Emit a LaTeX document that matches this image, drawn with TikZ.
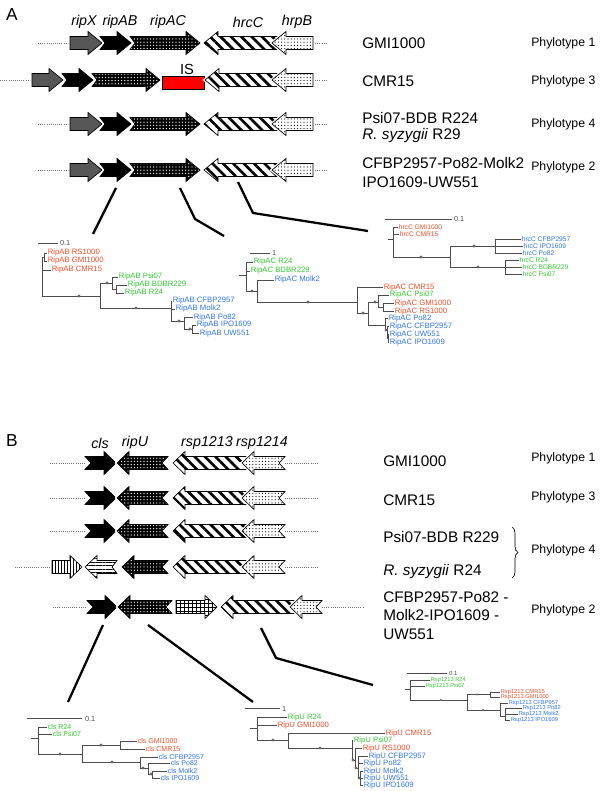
\documentclass[tikz,border=0pt]{standalone}
\usepackage{fontspec}
\setmainfont{Liberation Sans}
\usetikzlibrary{patterns.meta,decorations.pathreplacing}

\definecolor{cladered}{RGB}{240,78,42}
\definecolor{cladegreen}{RGB}{52,200,52}
\definecolor{cladeblue}{RGB}{48,118,232}

\tikzstyle{halo}=[preaction={draw=white,line width=2.4pt}]
\tikzstyle{greygene}=[halo,fill=black!66,draw=black,line width=0.5pt]
\tikzstyle{blackgene}=[halo,fill=black,draw=black,line width=0.5pt]
\tikzstyle{darkdots}=[halo,preaction={fill=black},pattern={Dots[radius=0.5pt,distance=2.4pt]},pattern color=white,draw=black,line width=0.5pt]
\tikzstyle{lightdots}=[halo,preaction={fill=white},pattern={Dots[radius=0.45pt,distance=2.4pt]},pattern color=black,draw=black,line width=0.5pt]
\tikzstyle{stripes}=[halo,preaction={fill=white},pattern={Lines[angle=-45,distance=5.5pt,line width=2pt]},pattern color=black,draw=black,line width=0.5pt]
\tikzstyle{vstripes}=[halo,preaction={fill=white},pattern={Lines[angle=90,distance=2.2pt,line width=0.6pt]},pattern color=black,draw=black,line width=0.5pt]
\tikzstyle{hstripes}=[halo,preaction={fill=white},pattern={Lines[angle=0,distance=2.6pt,line width=0.5pt]},pattern color=black,draw=black,line width=0.5pt]
\tikzstyle{gridgene}=[halo,preaction={fill=white},pattern={Hatch[angle=0,distance=3pt,line width=0.5pt]},pattern color=black,draw=black,line width=0.5pt]
\tikzstyle{isbox}=[draw=black,fill=red,line width=0.6pt,minimum width=31.5pt,minimum height=9.75pt,inner sep=0pt]
\tikzstyle{locus}=[densely dotted,black!55,line width=0.6pt]
\tikzstyle{panel}=[font=\fontsize{13}{14}\selectfont]
\tikzstyle{genelabel}=[font=\fontsize{10.7}{12}\selectfont\itshape]
\tikzstyle{strain}=[anchor=west,inner sep=0pt,font=\fontsize{11.5}{13}\selectfont]
\tikzstyle{phylo}=[anchor=west,inner sep=0pt,font=\fontsize{9.2}{11}\selectfont]
\tikzstyle{zoomline}=[line width=1.7pt,line join=round]
\tikzstyle{branch}=[draw=black!70,line width=0.45pt]
\tikzstyle{bdot}=[circle,fill=black!60,inner sep=0pt,minimum size=2.3pt]
\tikzstyle{leaf}=[anchor=west,inner sep=0.4pt,font=\fontsize{5.8}{6}\selectfont]
\tikzstyle{smallleaf}=[leaf,font=\fontsize{5}{5}\selectfont]
\tikzstyle{tinyleaf}=[leaf,font=\fontsize{4.3}{5}\selectfont]
\tikzstyle{barlab}=[anchor=west,inner sep=0.6pt,text=black!70,font=\fontsize{5.5}{6}\selectfont]

% gene arrows: [notch]{style}{x from}{x to}{y}
\newcommand{\headlen}{14}
\newcommand{\rgene}[5][0]{\path[#2] (#3,#5-6.5) -- (#4-\headlen,#5-6.5) -- (#4-\headlen,#5-11.5) -- (#4,#5) -- (#4-\headlen,#5+11.5) -- (#4-\headlen,#5+6.5) -- (#3,#5+6.5) -- (#3+#1,#5) -- cycle;}
\newcommand{\lgene}[5][0]{\path[#2] (#3,#5) -- (#3+\headlen,#5-11.5) -- (#3+\headlen,#5-6.5) -- (#4,#5-6.5) -- (#4-#1,#5) -- (#4,#5+6.5) -- (#3+\headlen,#5+6.5) -- (#3+\headlen,#5+11.5) -- cycle;}

\begin{document}
\begin{tikzpicture}[x=0.75pt,y=-0.75pt]
\useasboundingbox (0,0) rectangle (600,791);

% ---------------- panel A ----------------
\node[panel] (labA) at (12,15) {A};
\foreach \name/\x/\txt in {gX/84/ripX, gAB/120/ripAB, gAC/168/ripAC, gC/248/hrcC, gB/297/hrpB}
  \node[genelabel] (\name) at (\x,22) {\txt};

% loci
\foreach \y in {43,124,170} {
  \draw[locus] (38,\y) -- (70,\y);
  \draw[locus] (313,\y) -- (326,\y);
  \rgene{greygene}{70}{102}{\y}
  \rgene[5]{blackgene}{100}{131}{\y}
  \rgene[5]{darkdots}{130}{200}{\y}
  \lgene{stripes}{204}{280}{\y}
  \lgene{lightdots}{272}{313}{\y}
}
\draw[locus] (0,80) -- (32,80);
\draw[locus] (313,80) -- (326,80);
\rgene{greygene}{32}{63}{80}
\rgene[5]{blackgene}{62}{93}{80}
\rgene[5]{darkdots}{92}{160}{80}
\node[isbox] (isel) at (183,82.5) {};
\node[font=\fontsize{11}{12}\selectfont] (islab) at (187,69) {IS};
\lgene{stripes}{205}{280}{80}
\lgene{lightdots}{272}{313}{80}

% strains
\node[strain] (sA1) at (362,43) {GMI1000};
\node[strain] (sA2) at (362,81) {CMR15};
\node[strain] (sA3) at (362,118) {Psi07-BDB R224};
\node[strain] (sA4) at (362,136) {\textit{R. syzygii} R29};
\node[strain] (sA5) at (362,163) {CFBP2957-Po82-Molk2};
\node[strain] (sA6) at (362,182) {IPO1609-UW551};
\node[phylo] (pA1) at (531,43) {Phylotype 1};
\node[phylo] (pA2) at (531,81) {Phylotype 3};
\node[phylo] (pA3) at (531,124) {Phylotype 4};
\node[phylo] (pA4) at (531,167) {Phylotype 2};

% zoom lines
\coordinate (zAB1) at (116,188); \coordinate (zAB2) at (93,234);
\coordinate (zAC1) at (180,188); \coordinate (zAC2) at (195,219); \coordinate (zAC3) at (224,236);
\coordinate (zC1) at (238,182); \coordinate (zC2) at (253,213); \coordinate (zC3) at (368,231);
\draw[zoomline] (zAB1) -- (zAB2);
\draw[zoomline] (zAC1) -- (zAC2) -- (zAC3);
\draw[zoomline] (zC1) -- (zC2) -- (zC3);

% RipAB tree
\draw[branch] (38,243) -- (58,243);
\node[barlab] (abbar) at (59,243) {0.1};
\foreach \n/\x/\y/\t/\c in {ab1/47/253/RS1000/cladered, ab2/47/261/GMI1000/cladered, ab3/51/270/CMR15/cladered,
    ab4/118/277/Psi07/cladegreen, ab5/127/285/BDBR229/cladegreen, ab6/124/293/R24/cladegreen,
    ab7/172/301/CFBP2957/cladeblue, ab8/175/309/Molk2/cladeblue, ab9/193/317/Po82/cladeblue,
    ab10/196/325/IPO1609/cladeblue, ab11/199/333/UW551/cladeblue}
  \node[leaf,text=\c] (\n) at (\x,\y) {RipAB \t};
\draw[branch] (42,257) -- (42,296) (44,253) -- (44,261) (42,257) -- (44,257);
\draw[branch] (44,253) -- (ab1.west) (44,261) -- (ab2.west) (42,270) -- (ab3.west);
\draw[branch] (42,296) -- (100,296) (100,283) -- (100,308);
\draw[branch] (100,283) -- (112,283) (112,277) -- (112,289) (112,277) -- (ab4.west);
\draw[branch] (112,289) -- (116,289) (116,285) -- (116,293) (116,285) -- (ab5.west) (116,293) -- (ab6.west);
\draw[branch] (100,308) -- (171,308) (171,301) -- (171,321) (171,301) -- (ab7.west) (171,309) -- (ab8.west);
\draw[branch] (171,321) -- (184,321) (184,317) -- (184,329) (184,317) -- (ab9.west);
\draw[branch] (184,329) -- (192,329) (192,325) -- (192,333) (192,325) -- (ab10.west) (192,333) -- (ab11.west);
\foreach \n/\x/\y in {abd1/79/296, abd2/107/283, abd3/136/308, abd4/179/321, abd5/190/329}
  \node[bdot] (\n) at (\x,\y) {};

% RipAC tree
\draw[branch] (250,253) -- (270,253);
\node[barlab] (acbar) at (271,253) {1};
\foreach \n/\x/\y/\t/\c in {ac1/253/262/R24/cladegreen, ac2/250/271/BDBR229/cladegreen, ac3/274/280/Molk2/cladeblue,
    ac4/383/287/CMR15/cladered, ac5/389/295/Psi07/cladegreen, ac6/394/303/GMI1000/cladered,
    ac7/394/311/RS1000/cladered, ac8/388/318/Po82/cladeblue, ac9/389/326/CFBP2957/cladeblue,
    ac10/389/334/UW551/cladeblue, ac11/389/342/IPO1609/cladeblue}
  \node[leaf,text=\c] (\n) at (\x,\y) {RipAC \t};
\draw[branch] (239,275) -- (246,275) (246,262) -- (246,291) (246,262) -- (ac1.west) (246,271) -- (ac2.west);
\draw[branch] (246,291) -- (257,291) (257,280) -- (257,302) (257,280) -- (ac3.west);
\draw[branch] (257,302) -- (357,302) (357,287) -- (357,313) (357,287) -- (ac4.west);
\draw[branch] (357,313) -- (368,313) (368,302) -- (368,325);
\draw[branch] (368,302) -- (378,302) (378,295) -- (378,307) (378,295) -- (ac5.west);
\draw[branch] (378,307) -- (383,307) (383,303) -- (383,311) (383,303) -- (ac6.west) (383,311) -- (ac7.west);
\draw[branch] (368,325) -- (385,325) (385,318) -- (385,330) (385,318) -- (ac8.west);
\draw[branch] (385,330) -- (387,330) (387,326) -- (387,338) (387,326) -- (ac9.west);
\draw[branch] (387,338) -- (388,338) (388,334) -- (388,342) (388,334) -- (ac10.west) (388,342) -- (ac11.west);
\foreach \n/\x/\y in {acd1/252/291, acd2/308/302, acd3/363/313, acd4/375/302, acd5/386/330}
  \node[bdot] (\n) at (\x,\y) {};

% hrcC tree
\draw[branch] (385,219) -- (452,219);
\node[barlab] (cbar) at (453,219) {0.1};
\foreach \n/\x/\y/\t/\c in {c1/398/227/GMI1000/cladered, c2/399/234/CMR15/cladered,
    c3/521/239/CFBP2957/cladeblue, c4/523/246/IPO1609/cladeblue, c5/522/253/Po82/cladeblue,
    c6/519/260/R24/cladegreen, c7/522/267/BDBR229/cladegreen, c8/522/274/Psi07/cladegreen}
  \node[smallleaf,text=\c] (\n) at (\x,\y) {hrcC \t};
\draw[branch] (388,239) -- (393,239) (393,227) -- (393,257) (393,227) -- (c1.west) (393,234) -- (c2.west);
\draw[branch] (393,257) -- (450,257) (450,246) -- (450,267);
\draw[branch] (450,246) -- (495,246) (495,239) -- (495,253) (495,239) -- (c3.west) (495,246) -- (c4.west) (495,253) -- (c5.west);
\draw[branch] (450,267) -- (505,267) (505,260) -- (505,274) (505,260) -- (c6.west) (505,267) -- (c7.west) (505,274) -- (c8.west);
\foreach \n/\x/\y in {cd1/421/257, cd2/474/246, cd3/478/267}
  \node[bdot] (\n) at (\x,\y) {};

% ---------------- panel B ----------------
\renewcommand{\headlen}{12}
\node[panel] (labB) at (12,441) {B};
\foreach \name/\x/\txt in {gcls/100/cls, gU/135/ripU, g13/207/rsp1213, g14/262/rsp1214}
  \node[genelabel] (\name) at (\x,443) {\txt};

% loci
\foreach \y in {463,498,531} {
  \draw[locus] (50,\y) -- (85,\y);
  \draw[locus] (285,\y) -- (318,\y);
  \rgene[6]{blackgene}{85}{116}{\y}
  \lgene[6]{darkdots}{117}{168}{\y}
  \lgene{stripes}{173}{250}{\y}
  \lgene[6]{lightdots}{242}{285}{\y}
}
\draw[locus] (15,567) -- (52,567);
\draw[locus] (285,567) -- (318,567);
\rgene{vstripes}{52}{82}{567}
\lgene[5]{hstripes}{85}{117}{567}
\lgene[6]{darkdots}{122}{168}{567}
\lgene{stripes}{173}{250}{567}
\lgene[6]{lightdots}{242}{285}{567}

\draw[locus] (53,607) -- (87,607);
\draw[locus] (322,607) -- (363,607);
\rgene[6]{blackgene}{87}{117}{607}
\lgene[6]{darkdots}{118}{172}{607}
\rgene{gridgene}{176}{217}{607}
\lgene{stripes}{221}{298}{607}
\lgene[6]{lightdots}{290}{322}{607}

% strains
\node[strain] (sB1) at (383,461) {GMI1000};
\node[strain] (sB2) at (383,500) {CMR15};
\node[strain] (sB3) at (383,537) {Psi07-BDB R229};
\node[strain] (sB4) at (383,572) {\textit{R. syzygii} R24};
\node[strain] (sB5) at (383,597) {CFBP2957-Po82 -};
\node[strain] (sB6) at (383,615) {Molk2-IPO1609 -};
\node[strain] (sB7) at (383,634) {UW551};
\node[phylo] (pB1) at (531,458) {Phylotype 1};
\node[phylo] (pB2) at (531,497) {Phylotype 3};
\node[phylo] (pB3) at (531,550) {Phylotype 4};
\node[phylo] (pB4) at (531,610) {Phylotype 2};
\coordinate (brT) at (512,527); \coordinate (brB) at (512,578);
\draw[line width=0.5pt,decorate,decoration={brace,amplitude=4.5pt}] (brT) -- (brB);

% zoom lines
\coordinate (zcl1) at (103,625); \coordinate (zcl2) at (68,702);
\coordinate (zU1) at (148,625); \coordinate (zU2) at (253,702);
\coordinate (z131) at (261,628); \coordinate (z132) at (276,658); \coordinate (z133) at (373,685);
\draw[zoomline] (zcl1) -- (zcl2);
\draw[zoomline] (zU1) -- (zU2);
\draw[zoomline] (z131) -- (z132) -- (z133);

% cls tree
\draw[branch] (27,718) -- (82,718);
\node[barlab] (clbar) at (84,719) {0.1};
\foreach \n/\x/\y/\t/\c in {cl1/47/727/R24/cladegreen, cl2/52/734/Psi07/cladegreen,
    cl3/137/741/GMI1000/cladered, cl4/145/749/CMR15/cladered, cl5/158/757/CFBP2957/cladeblue,
    cl6/170/763/Po82/cladeblue, cl7/167/771/Molk2/cladeblue, cl8/160/778/IPO1609/cladeblue}
  \node[leaf,font=\fontsize{5.3}{6}\selectfont,text=\c] (\n) at (\x,\y) {cls \t};
\draw[branch] (31,738) -- (38,738) (38,727) -- (38,754) (38,727) -- (cl1.west) (38,734) -- (cl2.west);
\draw[branch] (38,754) -- (82,754) (82,745) -- (82,762);
\draw[branch] (82,745) -- (120,745) (120,741) -- (120,749) (120,741) -- (cl3.west) (120,749) -- (cl4.west);
\draw[branch] (82,762) -- (140,762) (140,757) -- (140,768) (140,757) -- (cl5.west);
\draw[branch] (140,768) -- (148,768) (148,763) -- (148,774) (148,763) -- (cl6.west);
\draw[branch] (148,774) -- (152,774) (152,771) -- (152,778) (152,771) -- (cl7.west) (152,778) -- (cl8.west);
\foreach \n/\x/\y in {cld1/60/754, cld2/101/745, cld3/112/762, cld4/143/768, cld5/151/774}
  \node[bdot] (\n) at (\x,\y) {};

% RipU tree
\draw[branch] (245,708) -- (280,708);
\node[barlab] (ubar) at (281,709) {1};
\foreach \n/\x/\y/\t/\c in {u1/287/717/R24/cladegreen, u2/277/725/GMI1000/cladered, u3/385/733/CMR15/cladered,
    u4/353/740/Psi07/cladegreen, u5/362/748/RS1000/cladered, u6/368/756/CFBP2957/cladeblue,
    u7/363/763/Po82/cladeblue, u8/363/771/Molk2/cladeblue, u9/363/778/UW551/cladeblue, u10/363/785/IPO1609/cladeblue}
  \node[leaf,text=\c] (\n) at (\x,\y) {RipU \t};
\draw[branch] (250,728) -- (257,728) (257,717) -- (257,740) (257,717) -- (u1.west) (257,725) -- (u2.west);
\draw[branch] (257,740) -- (288,740) (288,733) -- (288,748) (288,733) -- (u3.west);
\draw[branch] (288,748) -- (352,748) (352,740) -- (352,760) (352,740) -- (u4.west);
\draw[branch] (352,760) -- (355,760) (355,748) -- (355,768) (355,748) -- (u5.west);
\draw[branch] (355,768) -- (358,768) (358,756) -- (358,778) (358,756) -- (u6.west) (358,763) -- (u7.west);
\draw[branch] (358,778) -- (360,778) (360,771) -- (360,785) (360,771) -- (u8.west) (360,778) -- (u9.west) (360,785) -- (u10.west);
\foreach \n/\x/\y in {ud1/273/740, ud2/320/748, ud3/353/760, ud4/356/768, ud5/359/778}
  \node[bdot] (\n) at (\x,\y) {};

% Rsp1213 tree
\draw[branch] (407,673) -- (447,673);
\node[barlab,font=\fontsize{4.5}{5}\selectfont] (rbar) at (448,673) {0.1};
\foreach \n/\x/\y/\t/\c in {r1/430/680/R24/cladegreen, r2/425/686/Psi07/cladegreen,
    r3/500/692/CMR15/cladered, r4/500/697/GMI1000/cladered, r5/508/703/CFBP957/cladeblue,
    r6/522/708/Po82/cladeblue, r7/518/714/Molk2/cladeblue, r8/510/720/IPO1609/cladeblue}
  \node[tinyleaf,text=\c] (\n) at (\x,\y) {Rsp1213 \t};
\draw[branch] (405,689) -- (410,689) (410,680) -- (410,700) (410,680) -- (r1.west) (410,686) -- (r2.west);
\draw[branch] (410,700) -- (467,700) (467,694.5) -- (467,710);
\draw[branch] (467,694.5) -- (490,694.5) (490,692) -- (490,697) (490,692) -- (r3.west) (490,697) -- (r4.west);
\draw[branch] (467,710) -- (500,710) (500,703) -- (500,716) (500,703) -- (r5.west);
\draw[branch] (500,716) -- (505,716) (505,708) -- (505,720) (505,708) -- (r6.west) (505,714) -- (r7.west) (505,720) -- (r8.west);
\foreach \n/\x/\y in {rd1/441/700, rd2/477/694.5, rd3/483/710}
  \node[bdot,minimum size=1.8pt] (\n) at (\x,\y) {};
\end{tikzpicture}
\end{document}
